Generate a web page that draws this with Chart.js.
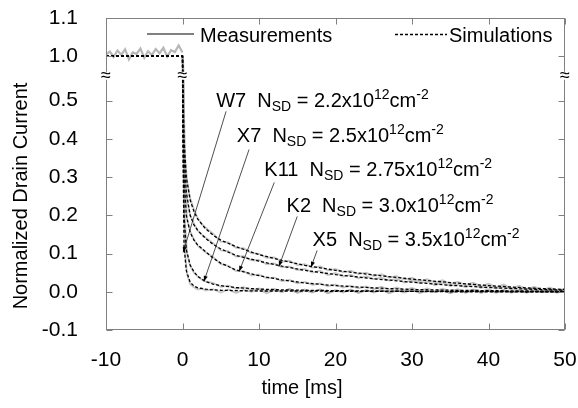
<!DOCTYPE html>
<html>
<head>
<meta charset="utf-8">
<script src="https://cdn.jsdelivr.net/npm/chart.js@4.4.1/dist/chart.umd.min.js"></script>
<style>
  html, body { margin: 0; padding: 0; background: #fff; }
  #wrap { width: 578px; height: 408px; }
</style>
</head>
<body>
<div id="wrap"><canvas id="drain-chart" width="578" height="408"></canvas></div>
<script>
// time samples [ms]
const preTime = [-10, -9.5, -9, -8.5, -8, -7.5, -7, -6.5, -6, -5.5, -5, -4.5, -4, -3.5, -3, -2.5, -2, -1.5, -1, -0.5, 0];
const measTime = [0, 0.1, 0.3, 0.6, 1, 1.5, 2, 2.5, 3, 4, 5, 6, 7, 8, 9, 10, 11, 12, 13, 14, 15, 16, 17, 18, 19, 20,
  21, 22, 23, 24, 25, 26, 27, 28, 29, 30, 31, 32, 33, 34, 35, 36, 37, 38, 39, 40, 41, 42, 43, 44, 45, 46, 47, 48, 49, 50];
const simTime = [-10, 0, 0.05, 0.2, 0.5, 1, 1.5, 2, 3, 4, 5, 7, 10, 13, 16, 20, 25, 30, 35, 40, 45, 50];

// measured drain current before the pulse (all devices overlap)
const measPre = [1.005, 1.012, 0.998, 1.015, 1.004, 1.018, 0.992, 1.01, 1.006, 1.02, 0.996,
  1.013, 1.003, 1.019, 1.008, 1.022, 0.999, 1.016, 1.011, 1.028, 1.01];

// measured recovery after the pulse
const measX5 = [1.0, 0.6, 0.36, 0.29, 0.245, 0.215, 0.192, 0.178, 0.168,
  0.152, 0.131, 0.129, 0.115, 0.114, 0.101, 0.099, 0.089, 0.09, 0.079, 0.081, 0.07, 0.072, 0.063, 0.066, 0.056, 0.06,
  0.051, 0.055, 0.046, 0.05, 0.041, 0.046, 0.037, 0.041, 0.032, 0.037, 0.027, 0.033, 0.024, 0.03, 0.021, 0.026,
  0.018, 0.024, 0.015, 0.021, 0.012, 0.019, 0.009, 0.016, 0.007, 0.013, 0.004, 0.011, 0.003, 0.008];
const measK2 = [1.0, 0.58, 0.33, 0.24, 0.2, 0.178, 0.16, 0.15, 0.142,
  0.127, 0.108, 0.106, 0.092, 0.093, 0.082, 0.083, 0.072, 0.074, 0.064, 0.066, 0.057, 0.06, 0.05, 0.055, 0.044, 0.049,
  0.04, 0.044, 0.035, 0.041, 0.033, 0.037, 0.029, 0.034, 0.024, 0.03, 0.022, 0.027, 0.017, 0.024, 0.015, 0.02,
  0.012, 0.019, 0.01, 0.016, 0.008, 0.014, 0.006, 0.012, 0.004, 0.01, 0.003, 0.008, 0.002, 0.006];
const measK11 = [1.0, 0.55, 0.28, 0.19, 0.158, 0.137, 0.12, 0.112, 0.103,
  0.091, 0.072, 0.068, 0.054, 0.054, 0.043, 0.045, 0.035, 0.037, 0.028, 0.031, 0.022, 0.026, 0.018, 0.022, 0.014, 0.019,
  0.011, 0.016, 0.009, 0.014, 0.007, 0.013, 0.005, 0.011, 0.004, 0.01, 0.003, 0.009, 0.002, 0.008, 0.001, 0.007,
  0.0, 0.006, 0.001, 0.006, -0.001, 0.005, 0.0, 0.005, -0.001, 0.004, 0.0, 0.004, -0.001, 0.003];
const measX7 = [1.0, 0.5, 0.19, 0.1, 0.068, 0.05, 0.04, 0.032, 0.027,
  0.023, 0.013, 0.016, 0.008, 0.012, 0.004, 0.009, 0.002, 0.008, 0.0, 0.007, -0.002, 0.006, -0.001, 0.006, -0.003, 0.005,
  -0.002, 0.006, -0.003, 0.004, -0.001, 0.005, -0.003, 0.004, -0.002, 0.005, -0.003, 0.003, -0.001, 0.004, -0.003, 0.003,
  -0.002, 0.004, -0.002, 0.003, -0.003, 0.003, -0.001, 0.002, -0.002, 0.003, -0.001, 0.002, -0.002, 0.002];
const measW7 = [1.0, 0.4, 0.11, 0.045, 0.02, 0.012, 0.006, 0.009, 0.003,
  0.007, -0.002, 0.006, -0.003, 0.005, 0.0, 0.006, -0.004, 0.004, -0.001, 0.007, -0.003, 0.003, -0.002, 0.006, -0.004, 0.002,
  0.001, 0.005, -0.003, 0.004, -0.002, 0.006, -0.004, 0.003, 0.0, 0.005, -0.003, 0.002, -0.001, 0.005, -0.004, 0.003,
  -0.002, 0.004, -0.003, 0.002, 0.0, 0.004, -0.003, 0.003, -0.002, 0.004, -0.001, 0.002, -0.002, 0.003];

// simulated recovery
const simX5 = [1, 1, 0.55, 0.4, 0.3, 0.24, 0.21, 0.19, 0.165, 0.148, 0.135, 0.118, 0.097, 0.082, 0.069, 0.056, 0.044, 0.033, 0.024, 0.016, 0.01, 0.006];
const simK2 = [1, 1, 0.52, 0.36, 0.26, 0.2, 0.175, 0.16, 0.14, 0.124, 0.112, 0.095, 0.08, 0.067, 0.056, 0.045, 0.034, 0.025, 0.017, 0.011, 0.007, 0.004];
const simK11 = [1, 1, 0.5, 0.3, 0.2, 0.155, 0.135, 0.122, 0.105, 0.088, 0.075, 0.057, 0.042, 0.031, 0.023, 0.016, 0.01, 0.006, 0.004, 0.003, 0.002, 0.001];
const simX7 = [1, 1, 0.45, 0.2, 0.11, 0.07, 0.052, 0.04, 0.027, 0.02, 0.016, 0.011, 0.007, 0.005, 0.004, 0.003, 0.002, 0.001, 0.001, 0.001, 0.0, 0.0];
const simW7 = [1, 1, 0.4, 0.12, 0.055, 0.025, 0.015, 0.01, 0.007, 0.005, 0.004, 0.003, 0.002, 0.002, 0.002, 0.001, 0.001, 0.001, 0.0, 0.0, 0.0, 0.0];

// y axis ticks (values above the break are shifted down)
const yTickValues = [-0.1, 0.0, 0.1, 0.2, 0.3, 0.4, 0.5, 1.0, 1.1];
const yTickLabels = ["-0.1", "0.0", "0.1", "0.2", "0.3", "0.4", "0.5", "1.0", "1.1"];
const xTickStep = 10;

// device labels: name, N_SD, text anchor [t, I], leader tail [t, I], leader tip [t, I]
const devNames = ["W7", "X7", "K11", "K2", "X5"];
const devNsd = ["2.2", "2.5", "2.75", "3.0", "3.5"];
const labelAt = [[4.4, 0.482], [7.1, 0.391], [10.7, 0.302], [13.6, 0.208], [17.0, 0.119]];
const leaderFrom = [[5.7, 0.472], [8.7, 0.372], [12.0, 0.286], [15.0, 0.197], [17.6, 0.108]];
const leaderTo = [[0.08, 0.103], [2.8, 0.027], [7.4, 0.053], [12.6, 0.066], [16.8, 0.064]];

const BREAK_SHIFT = 0.384;
const BREAK_MARK = 0.565;
const FONT = '"Liberation Sans", Arial, sans-serif';

function toAxis(v) { return v > 0.75 ? v - BREAK_SHIFT : v; }
function pts(times, vals) { return times.map((t, i) => ({ x: t, y: toAxis(vals[i]) })); }

const measStyle = { borderColor: 'rgba(160,160,160,0.6)', borderWidth: 1.8, pointRadius: 0, showLine: true, order: 1 };
const simStyle = { borderColor: '#000', borderWidth: 1.3, borderDash: [3, 2], pointRadius: 0, showLine: true, order: 0 };

const datasets = [
  { label: 'pre', data: pts(preTime, measPre), ...measStyle, borderColor: 'rgba(170,170,170,0.85)', borderWidth: 2.2 },
  { label: 'X5 meas', data: pts(measTime, measX5), ...measStyle },
  { label: 'K2 meas', data: pts(measTime, measK2), ...measStyle },
  { label: 'K11 meas', data: pts(measTime, measK11), ...measStyle },
  { label: 'X7 meas', data: pts(measTime, measX7), ...measStyle },
  { label: 'W7 meas', data: pts(measTime, measW7), ...measStyle },
  { label: 'X5 sim', data: pts(simTime, simX5), ...simStyle },
  { label: 'K2 sim', data: pts(simTime, simK2), ...simStyle },
  { label: 'K11 sim', data: pts(simTime, simK11), ...simStyle },
  { label: 'X7 sim', data: pts(simTime, simX7), ...simStyle },
  { label: 'W7 sim', data: pts(simTime, simW7), ...simStyle }
];

// draws "W7  N_SD = 2.2x10^12cm^-2" piece by piece
function drawDeviceLabel(ctx, x, base, name, nsd) {
  const parts = [
    [name + '  N', 20, 0], ['SD', 14, 4], [' = ' + nsd + 'x10', 20, 0],
    ['12', 14, -8], ['cm', 20, 0], ['-2', 14, -8]
  ];
  ctx.textAlign = 'left';
  ctx.textBaseline = 'alphabetic';
  for (const [txt, size, dy] of parts) {
    ctx.font = size + 'px ' + FONT;
    ctx.fillText(txt, x, base + dy);
    x += ctx.measureText(txt).width;
  }
}

function drawLeader(ctx, x0, y0, x1, y1) {
  ctx.beginPath();
  ctx.moveTo(x0, y0);
  ctx.lineTo(x1, y1);
  ctx.stroke();
  const ang = Math.atan2(y1 - y0, x1 - x0);
  const len = 6, spread = 0.35;
  ctx.beginPath();
  ctx.moveTo(x1, y1);
  ctx.lineTo(x1 - len * Math.cos(ang - spread), y1 - len * Math.sin(ang - spread));
  ctx.lineTo(x1 - len * Math.cos(ang + spread), y1 - len * Math.sin(ang + spread));
  ctx.closePath();
  ctx.fill();
}

const decorPlugin = {
  id: 'decor',
  afterDatasetsDraw(chart) {
    const { ctx, chartArea: a, scales: { x, y } } = chart;
    ctx.save();

    // frame and inward ticks on all four sides
    ctx.strokeStyle = '#808080';
    ctx.lineWidth = 1;
    const L = Math.round(a.left) + 0.5, R = Math.round(a.right) - 0.5;
    const T = Math.round(a.top) + 0.5, B = Math.round(a.bottom) - 0.5;
    ctx.strokeRect(L, T, R - L, B - T);
    ctx.beginPath();
    x.ticks.forEach(tk => {
      const px = Math.round(x.getPixelForValue(tk.value)) + 0.5;
      ctx.moveTo(px, B); ctx.lineTo(px, B - 6);
      ctx.moveTo(px, T); ctx.lineTo(px, T + 6);
    });
    y.ticks.forEach(tk => {
      const py = Math.round(y.getPixelForValue(tk.value)) + 0.5;
      ctx.moveTo(L, py); ctx.lineTo(L + 6, py);
      ctx.moveTo(R, py); ctx.lineTo(R - 6, py);
    });
    ctx.stroke();

    // axis break marks
    const by = y.getPixelForValue(BREAK_MARK);
    ctx.font = '18px ' + FONT;
    ctx.textAlign = 'center';
    ctx.textBaseline = 'middle';
    [a.left, x.getPixelForValue(0), a.right].forEach(bx => {
      ctx.fillStyle = '#fff';
      ctx.fillRect(bx - 3, by - 4, 6, 8);
      ctx.fillStyle = '#000';
      ctx.fillText('\u2248', bx, by);
    });

    // legend
    ctx.strokeStyle = '#808080';
    ctx.lineWidth = 2;
    ctx.beginPath(); ctx.moveTo(147, 34); ctx.lineTo(194, 34); ctx.stroke();
    ctx.strokeStyle = '#000';
    ctx.lineWidth = 1.3;
    ctx.setLineDash([3, 2]);
    ctx.beginPath(); ctx.moveTo(395, 34.5); ctx.lineTo(447, 34.5); ctx.stroke();
    ctx.setLineDash([]);
    ctx.fillStyle = '#000';
    ctx.font = '20px ' + FONT;
    ctx.textAlign = 'left';
    ctx.textBaseline = 'alphabetic';
    ctx.fillText('Measurements', 200, 42);
    ctx.fillText('Simulations', 449, 42);

    // device labels with leaders
    ctx.strokeStyle = '#222';
    ctx.fillStyle = '#000';
    ctx.lineWidth = 0.8;
    devNames.forEach((name, i) => {
      drawDeviceLabel(ctx, x.getPixelForValue(labelAt[i][0]), y.getPixelForValue(labelAt[i][1]), name, devNsd[i]);
      drawLeader(ctx,
        x.getPixelForValue(leaderFrom[i][0]), y.getPixelForValue(leaderFrom[i][1]),
        x.getPixelForValue(leaderTo[i][0]), y.getPixelForValue(leaderTo[i][1]));
    });

    // axis titles
    ctx.font = '20px ' + FONT;
    ctx.textAlign = 'center';
    ctx.textBaseline = 'alphabetic';
    ctx.fillText('time [ms]', 302, 394);
    ctx.save();
    ctx.translate(27, 196);
    ctx.rotate(-Math.PI / 2);
    ctx.fillText('Normalized Drain Current', 0, 0);
    ctx.restore();

    ctx.restore();
  }
};

new Chart(document.getElementById('drain-chart'), {
  type: 'scatter',
  data: { datasets },
  options: {
    responsive: false,
    animation: false,
    devicePixelRatio: 1,
    layout: { autoPadding: false, padding: { left: 0, right: 13, top: 18, bottom: 0 } },
    plugins: { legend: { display: false }, tooltip: { enabled: false } },
    scales: {
      x: {
        type: 'linear', min: -10, max: 50,
        grid: { display: false }, border: { display: false },
        ticks: { stepSize: xTickStep, color: '#000', padding: 10, font: { size: 21, family: FONT } },
        afterFit(s) { s.height = 78; s.paddingLeft = 0; s.paddingRight = 0; }
      },
      y: {
        type: 'linear', min: -0.1, max: 1.1 - BREAK_SHIFT,
        grid: { display: false }, border: { display: false },
        afterBuildTicks(s) { s.ticks = yTickValues.map(v => ({ value: toAxis(v) })); },
        ticks: {
          autoSkip: false, color: '#000', padding: 20, font: { size: 21, family: FONT },
          callback: (val, i) => yTickLabels[i]
        },
        afterFit(s) { s.width = 106; s.paddingTop = 0; s.paddingBottom = 0; }
      }
    }
  },
  plugins: [decorPlugin]
});
</script>
</body>
</html>
